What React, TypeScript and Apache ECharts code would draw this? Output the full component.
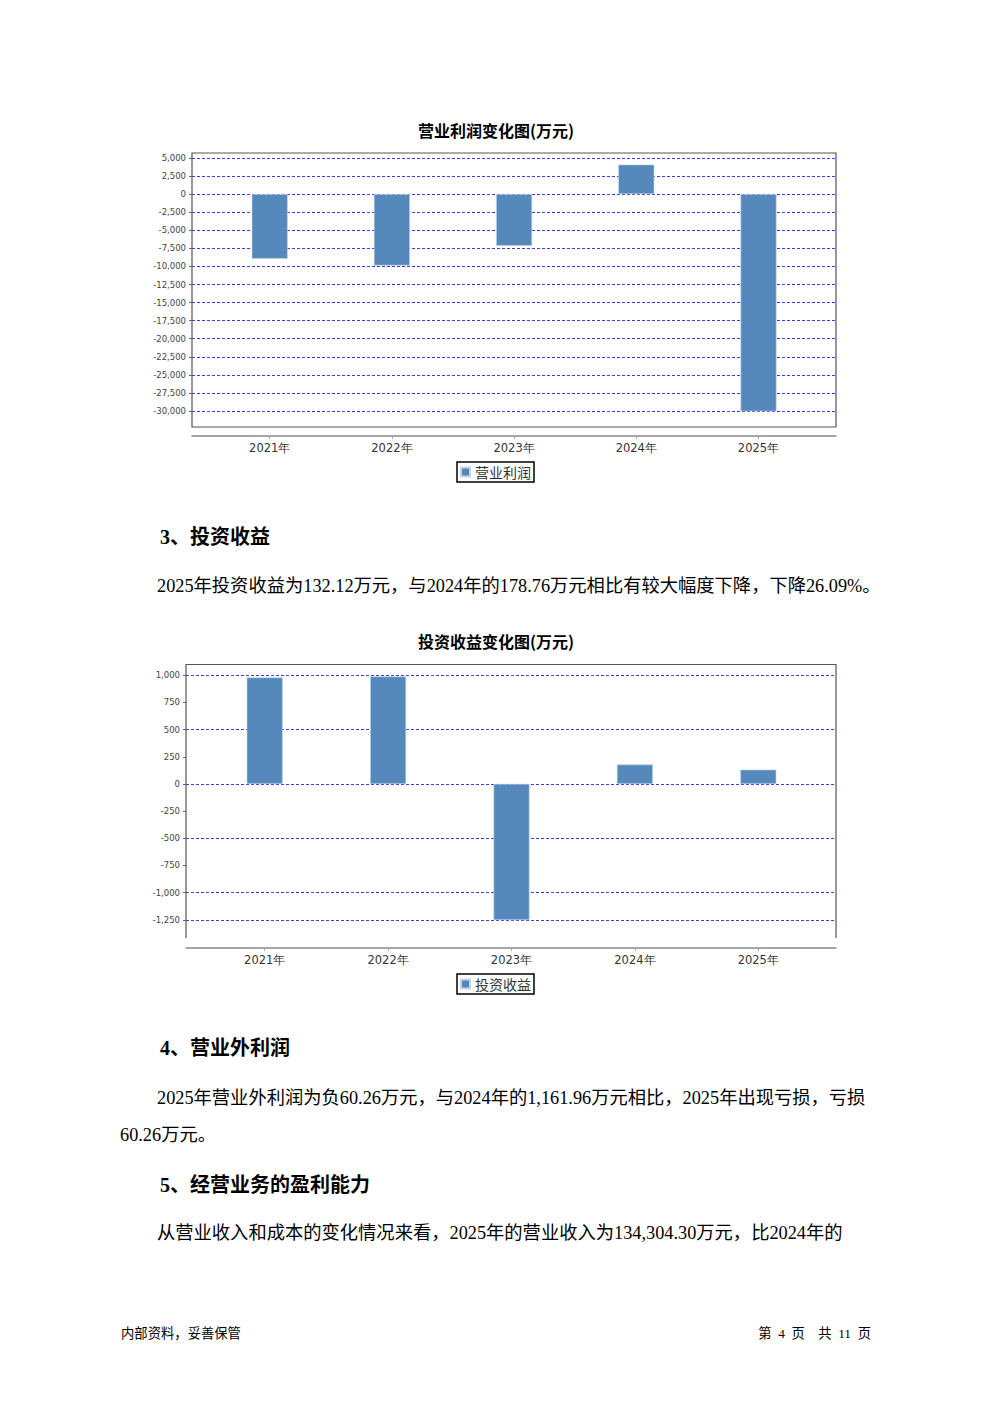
import React, { useEffect, useRef } from "react";
import * as echarts from "echarts";

const years = ["2021年", "2022年", "2023年", "2024年", "2025年"];
const operatingProfit = [-8940, -9870, -7140, 4090, -30420];
const investmentIncome = [980, 990, -1302, 178.76, 132.12];
const chart1Title = "营业利润变化图(万元)";
const chart2Title = "投资收益变化图(万元)";
const chart2GridValues = [1000, 500, 0, -500, -1000, -1250];

const heading3 = "3、投资收益";
const para3 = "2025年投资收益为132.12万元，与2024年的178.76万元相比有较大幅度下降，下降26.09%。";
const heading4 = "4、营业外利润";
const para4a = "2025年营业外利润为负60.26万元，与2024年的1,161.96万元相比，2025年出现亏损，亏损";
const para4b = "60.26万元。";
const heading5 = "5、经营业务的盈利能力";
const para5 = "从营业收入和成本的变化情况来看，2025年的营业收入为134,304.30万元，比2024年的";
const footerLeft = "内部资料，妥善保管";
const footerRight = "第  4  页    共  11  页";

const BAR_COLOR = "#5689bb";
const GRID_COLOR = "#3b3bf5";
const BODY_FONT = "'Liberation Serif', 'Noto Sans CJK SC', serif";
const CJK_FONT = "'Noto Sans CJK SC', sans-serif";
const AXIS_FONT = "'DejaVu Sans', sans-serif";

const fmt = (v: number) => v.toLocaleString("en-US");

function valueAxisLabels(extra: any = {}) {
  return {
    axisLine: { show: false },
    axisTick: { show: true, length: 3, lineStyle: { color: "#666" } },
    axisLabel: { fontSize: 8.5, color: "#444", margin: 6, fontFamily: AXIS_FONT, formatter: fmt },
    ...extra,
  };
}

function catAxis(gridIndex: number, offset: number) {
  return {
    type: "category",
    gridIndex,
    data: years,
    offset,
    axisLine: { show: false, onZero: false },
    axisTick: { show: true, alignWithLabel: true, length: 3, lineStyle: { color: "#aaa" } },
    axisLabel: { fontSize: 11.5, color: "#333", margin: 6, fontFamily: AXIS_FONT },
    splitLine: { show: false },
  };
}

function lineAxis(gridIndex: number, offset: number) {
  return {
    type: "value",
    gridIndex,
    min: 0,
    max: 1,
    offset,
    axisLine: { show: true, onZero: false, lineStyle: { color: "#888", width: 1.5 } },
    axisTick: { show: false },
    axisLabel: { show: false },
    splitLine: { show: false },
  };
}

function txt(text: string, x: number, y: number, opts: any = {}) {
  return {
    type: "text",
    x,
    y,
    style: {
      text,
      fontSize: opts.fontSize ?? 18.3,
      fontFamily: opts.fontFamily ?? BODY_FONT,
      fontWeight: opts.fontWeight ?? "normal",
      fill: opts.fill ?? "#000",
      align: opts.align ?? "left",
      verticalAlign: "middle",
    },
  };
}

export default function App() {
  const ref = useRef<HTMLDivElement>(null);

  useEffect(() => {
    if (!ref.current) return;
    const chart = echarts.init(ref.current, undefined, { renderer: "svg" });

    const dashed = { show: true, lineStyle: { color: GRID_COLOR, type: [3, 2], width: 1 } };

    const legendBase = {
      icon: "rect",
      itemWidth: 9,
      itemHeight: 9,
      itemGap: 4,
      padding: [3, 3, 3, 3],
      borderColor: "#000",
      borderWidth: 1.5,
      borderRadius: 0,
      textStyle: { fontSize: 14, color: "#333", fontFamily: CJK_FONT },
    };

    const option: any = {
      animation: false,
      backgroundColor: "#fff",
      grid: [
        { left: 192, top: 158, width: 644, height: 253 },
        { left: 208.6, top: 158, width: 611, height: 253 },
        { left: 186, top: 675.3, width: 650, height: 244.5 },
        { left: 203, top: 675.3, width: 617, height: 244.5 },
      ],
      xAxis: [lineAxis(0, 25), catAxis(1, 25), lineAxis(2, 28.2), catAxis(3, 28.2)],
      yAxis: [
        { type: "value", gridIndex: 0, min: -30000, max: 5000, interval: 2500, ...valueAxisLabels({ splitLine: dashed }) },
        { type: "value", gridIndex: 1, min: -30000, max: 5000, interval: 2500, show: false },
        { type: "value", gridIndex: 2, min: -1250, max: 1000, interval: 250, ...valueAxisLabels({ splitLine: { show: false } }) },
        {
          type: "value",
          gridIndex: 2,
          min: -1250,
          max: 1000,
          axisLine: { show: false },
          axisTick: { show: false, customValues: chart2GridValues },
          axisLabel: { show: false, customValues: chart2GridValues },
          splitLine: dashed,
        },
        { type: "value", gridIndex: 3, min: -1250, max: 1000, interval: 250, show: false },
      ],
      legend: [
        { ...legendBase, data: ["营业利润"], left: 457, top: 462 },
        { ...legendBase, data: ["投资收益"], left: 457, top: 974 },
      ],
      series: [
        {
          name: "营业利润",
          type: "bar",
          xAxisIndex: 1,
          yAxisIndex: 1,
          data: operatingProfit,
          barWidth: 36,
          itemStyle: { color: BAR_COLOR, borderColor: "#c5d5e6", borderWidth: 0.6 },
        },
        {
          name: "投资收益",
          type: "bar",
          xAxisIndex: 3,
          yAxisIndex: 4,
          data: investmentIncome,
          barWidth: 36,
          itemStyle: { color: BAR_COLOR, borderColor: "#c5d5e6", borderWidth: 0.6 },
        },
      ],
      graphic: [
        {
          type: "rect",
          shape: { x: 192, y: 153, width: 644, height: 274 },
          style: { fill: "none", stroke: "#555", lineWidth: 1.2 },
        },
        {
          type: "polyline",
          shape: { points: [[186, 938], [186, 664.5], [836, 664.5], [836, 938]] },
          style: { fill: "none", stroke: "#555", lineWidth: 1.2 },
        },
        txt(chart1Title, 496, 130, { fontSize: 16, fontWeight: "bold", fontFamily: CJK_FONT, align: "center" }),
        txt(chart2Title, 496, 641, { fontSize: 16, fontWeight: "bold", fontFamily: CJK_FONT, align: "center" }),
        txt(heading3, 160, 537, { fontSize: 20, fontWeight: "bold" }),
        txt(para3, 157, 586),
        txt(heading4, 160, 1048, { fontSize: 20, fontWeight: "bold" }),
        txt(para4a, 157, 1098),
        txt(para4b, 120, 1135),
        txt(heading5, 160, 1185, { fontSize: 20, fontWeight: "bold" }),
        txt(para5, 157, 1233),
        txt(footerLeft, 121, 1333, { fontSize: 13.33 }),
        txt(footerRight, 871, 1333, { fontSize: 13.33, align: "right" }),
      ],
    };

    chart.setOption(option);
    return () => chart.dispose();
  }, []);

  return (
    <div
      ref={ref}
      style={{ position: "absolute", left: 0, top: 0, width: 992, height: 1403, background: "#fff" }}
    />
  );
}
